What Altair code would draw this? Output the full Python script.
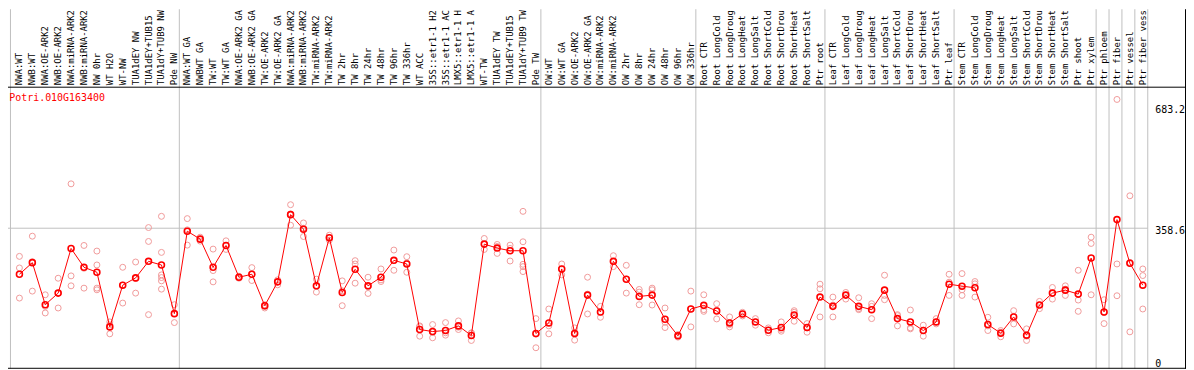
import altair as alt
import pandas as pd

gene = "Potri.010G163400"

categories = [
    "NWA:WT", "NWB:WT", "NWA:OE-ARK2", "NWB:OE-ARK2", "NWA:miRNA-ARK2", "NWB:miRNA-ARK2",
    "NW 0hr", "WT H2O", "WT-NW", "TUA1dEY NW", "TUA1dEY+TUB15", "TUA1dY+TUB9 NW", "Pde NW",
    "NWA:WT GA", "NWBWT GA", "TW:WT", "TW:WT GA", "NWA:OE-ARK2 GA", "NWB:OE-ARK2 GA",
    "TW:OE-ARK2", "TW:OE-ARK2 GA", "NWA:miRNA-ARK2", "NWB:miRNA-ARK2", "TW:miRNA-ARK2",
    "TW:miRNA-ARK2", "TW 2hr", "TW 8hr", "TW 24hr", "TW 48hr", "TW 96hr", "TW 336hr",
    "WT ACC", "35S::etr1-1 H2", "35S::etr1-1 AC", "LMX5::etr1-1 H", "LMX5::etr1-1 A",
    "WT-TW", "TUA1dEY TW", "TUA1dEY+TUB15", "TUA1dY+TUB9 TW", "Pde TW",
    "OW:WT", "OW:WT GA", "OW:OE-ARK2", "OW:OE-ARK2 GA", "OW:miRNA-ARK2", "OW:miRNA-ARK2",
    "OW 2hr", "OW 8hr", "OW 24hr", "OW 48hr", "OW 96hr", "OW 336hr",
    "Root CTR", "Root LongCold", "Root LongDroug", "Root LongHeat", "Root LongSalt",
    "Root ShortCold", "Root ShortDrou", "Root ShortHeat", "Root ShortSalt", "Ptr root",
    "Leaf CTR", "Leaf LongCold", "Leaf LongDroug", "Leaf LongHeat", "Leaf LongSalt",
    "Leaf ShortCold", "Leaf ShortDrou", "Leaf ShortHeat", "Leaf ShortSalt", "Ptr leaf",
    "Stem CTR", "Stem LongCold", "Stem LongDroug", "Stem LongHeat", "Stem LongSalt",
    "Stem ShortCold", "Stem ShortDrou", "Stem ShortHeat", "Stem ShortSalt", "Ptr shoot",
    "Ptr xylem", "Ptr phloem", "Ptr fiber", "Ptr vessel", "Ptr fiber vess",
]

group_sizes = [13, 28, 12, 10, 10, 11, 1, 1, 1, 1]

means = [
    234.6, 265.9, 152.6, 183.8, 304.2, 253.4, 240.0, 92.8, 205.2, 224.8,
    269.4, 259.6, 128.5, 350.6, 329.2, 253.4, 312.2, 226.6, 234.6, 149.9,
    214.1, 395.2, 356.0, 203.4, 332.8, 185.6, 248.0, 203.4, 226.6, 272.1,
    262.3, 85.7, 80.3, 83.0, 95.5, 69.6, 315.8, 305.1, 298.0, 298.0,
    75.0, 103.5, 248.9, 75.0, 178.4, 133.0, 269.4, 221.3, 174.9, 178.4,
    113.3, 68.7, 141.0, 150.8, 135.6, 103.5, 127.6, 106.2, 83.9, 91.0,
    124.9, 91.0, 173.1, 148.1, 178.4, 148.1, 139.2, 191.8, 115.1, 106.2,
    83.0, 106.2, 207.9, 202.5, 198.1, 99.1, 75.9, 119.6, 70.5, 151.7,
    183.8, 191.8, 181.1, 278.3, 133.0, 381.8, 264.1, 205.2,
]

replicates = [
    [282.8, 251.6, 170.4], [337.2, 268.5, 189.2], [179.3, 148.1, 130.3],
    [223.9, 183.8, 143.7], [478.2, 230.2, 203.4], [312.2, 250.7, 197.2],
    [297.1, 259.6, 197.2, 192.7], [106.2, 98.2, 74.1], [253.4, 205.2, 157.0],
    [267.6, 223.0, 183.8], [360.4, 323.0, 125.8],
    [390.7, 293.5, 232.9, 225.7, 216.8, 194.5], [152.6, 128.5, 104.4],
    [384.5, 354.2, 313.1], [334.5, 329.2, 323.8], [302.4, 244.5, 214.1],
    [324.7, 312.2, 301.5], [229.3, 226.6, 223.9], [252.5, 234.6, 217.7],
    [152.6, 148.1, 143.7], [219.5, 214.1, 206.1], [422.0, 397.0, 366.7],
    [372.9, 358.6, 336.3], [221.3, 202.5, 186.5], [339.9, 332.8, 326.5],
    [216.8, 190.0, 149.9], [271.2, 262.3, 210.6], [226.6, 200.7, 182.9],
    [248.9, 219.5, 215.0], [299.8, 271.2, 245.3], [281.9, 265.0, 240.0],
    [95.5, 93.7, 67.8], [99.1, 78.5, 63.4], [104.4, 76.8, 70.5],
    [108.9, 91.9, 85.7], [76.8, 75.9, 56.2], [331.0, 314.9, 301.5],
    [314.9, 309.6, 290.8], [313.1, 304.2, 270.3],
    [404.1, 322.1, 261.4, 255.2, 241.8], [115.1, 73.2, 36.6],
    [141.0, 95.5, 74.1], [262.3, 248.9, 232.9], [90.1, 77.7, 57.1],
    [226.6, 181.1, 127.6], [148.1, 132.1, 118.7], [284.6, 268.5, 255.2],
    [258.7, 221.3, 183.8], [193.6, 186.5, 152.6], [197.2, 192.7, 151.7],
    [143.7, 105.3, 91.0], [72.3, 68.7, 65.2], [189.2, 141.0, 92.8],
    [179.3, 139.2, 134.7], [155.3, 137.4, 114.2], [119.6, 99.1, 92.8],
    [132.1, 127.6, 122.3], [115.1, 106.2, 97.3], [90.1, 83.9, 76.8],
    [106.2, 85.7, 81.2], [136.5, 132.1, 108.0], [101.7, 90.1, 78.5],
    [207.9, 195.4, 119.6], [173.1, 151.7, 119.6], [185.6, 178.4, 167.7],
    [171.3, 141.9, 139.2], [155.3, 148.1, 115.1], [232.0, 177.6, 166.0],
    [125.8, 123.1, 95.5], [138.3, 90.1, 87.5], [97.3, 83.9, 67.8],
    [115.1, 106.2, 100.8], [234.6, 213.2, 177.6], [236.4, 192.7, 177.6],
    [215.0, 208.8, 173.1], [118.7, 95.5, 83.0], [83.0, 78.5, 66.1],
    [136.5, 121.4, 100.8], [87.5, 67.8, 56.2], [161.5, 151.7, 141.9],
    [199.0, 183.8, 167.7], [203.4, 194.5, 177.6], [245.3, 165.1, 134.7],
    [334.5, 317.6, 179.3], [166.0, 131.2, 101.7], [705.6, 262.3, 176.7],
    [446.0, 266.8, 79.4], [248.9, 231.1, 141.0],
]

tick_values = [683.2, 358.6, 0]
tick_labels = ["683.2", "358.6", "0"]
grid_value = 358.6

# ---------------- layout ----------------
W = 1186          # full chart width (plot + right label strip)
H = 283           # plot area height
HEAD = 78         # header strip with rotated labels
STEP = 13.0       # pixels per category
X0 = 11.5         # pixel position of the first category
FONT = "DejaVu Sans Mono"
x_scale = alt.Scale(domain=[-X0 / STEP, (W - X0) / STEP], nice=False, zero=False)
y_scale = alt.Scale(domain=[-17.39, 739.94], nice=False, zero=False)

df_cat = pd.DataFrame({"i": list(range(len(categories))), "label": categories, "mean": means})
df_rep = pd.DataFrame(
    [(i, v) for i, reps in enumerate(replicates) for v in reps], columns=["i", "v"]
)

ends = []
acc = 0
for g in group_sizes:
    acc += g
    ends.append(acc - 1)
seps = [-9 / STEP] + [e + 5 / STEP for e in ends]
df_sep = pd.DataFrame({"x": seps})
df_grid = pd.DataFrame({"x": [-X0 / STEP], "x2": [seps[-1]], "y": [grid_value]})
df_ticks = pd.DataFrame({"v": tick_values, "t": tick_labels})
df_one = pd.DataFrame({"k": [0]})
df_title = pd.DataFrame({"t": [gene]})

GRID = "#c0c0c0"

sep_rules = alt.Chart(df_sep).mark_rule(color=GRID, strokeWidth=1).encode(
    x=alt.X("x:Q", scale=x_scale, axis=None),
    y=alt.value(-HEAD),
    y2=alt.value(H + 1),
)

hgrid = alt.Chart(df_grid).mark_rule(color=GRID, strokeWidth=1).encode(
    x=alt.X("x:Q", scale=x_scale, axis=None),
    x2="x2:Q",
    y=alt.Y("y:Q", scale=y_scale, axis=None),
)

frame_top = alt.Chart(df_one).mark_rule(color="black", strokeWidth=1).encode(
    x=alt.value(0), x2=alt.value(W), y=alt.value(0.5)
)
frame_bottom = alt.Chart(df_one).mark_rule(color="black", strokeWidth=1).encode(
    x=alt.value(0), x2=alt.value(W), y=alt.value(H + 0.5)
)
frame_right = alt.Chart(df_one).mark_rule(color="black", strokeWidth=1).encode(
    x=alt.value(W - 0.5), y=alt.value(-HEAD), y2=alt.value(H + 1)
)

reps = alt.Chart(df_rep).mark_point(
    shape="circle", filled=False, size=36, strokeWidth=1, color="#f09a9a", opacity=1
).encode(
    x=alt.X("i:Q", scale=x_scale, axis=None),
    y=alt.Y("v:Q", scale=y_scale, axis=None),
)

line = alt.Chart(df_cat).mark_line(color="#ff0000", strokeWidth=1).encode(
    x=alt.X("i:Q", scale=x_scale, axis=None),
    y=alt.Y("mean:Q", scale=y_scale, axis=None),
)

mean_pts = alt.Chart(df_cat).mark_point(
    shape="circle", filled=False, size=36, strokeWidth=1.6, color="#ff0000", opacity=1
).encode(
    x=alt.X("i:Q", scale=x_scale, axis=None),
    y=alt.Y("mean:Q", scale=y_scale, axis=None),
)

header = alt.Chart(df_cat).mark_text(
    angle=270, align="left", baseline="middle", font=FONT, fontSize=9, color="black"
).encode(
    x=alt.X("i:Q", scale=x_scale, axis=None),
    y=alt.value(-1.5),
    text="label:N",
)

title = alt.Chart(df_title).mark_text(
    align="left", baseline="top", font=FONT, fontSize=10, color="#ff0000"
).encode(x=alt.value(1.3), y=alt.value(6.5), text="t:N")

ylabels = alt.Chart(df_ticks).mark_text(
    align="left", baseline="top", font=FONT, fontSize=10, color="black", dy=-2.5
).encode(
    x=alt.value(1155),
    y=alt.Y("v:Q", scale=y_scale, axis=None),
    text="t:N",
)

chart = (
    alt.layer(
        sep_rules, hgrid, frame_top, frame_bottom, frame_right,
        reps, line, mean_pts, header, title, ylabels,
    )
    .properties(
        width=W,
        height=H,
        padding={"left": 0, "right": 0, "top": HEAD, "bottom": 1},
        autosize=alt.AutoSizeParams(type="none"),
        background="white",
    )
    .configure_view(stroke=None)
)

chart.save("out.html", embed_options={"renderer": "svg", "actions": False})
